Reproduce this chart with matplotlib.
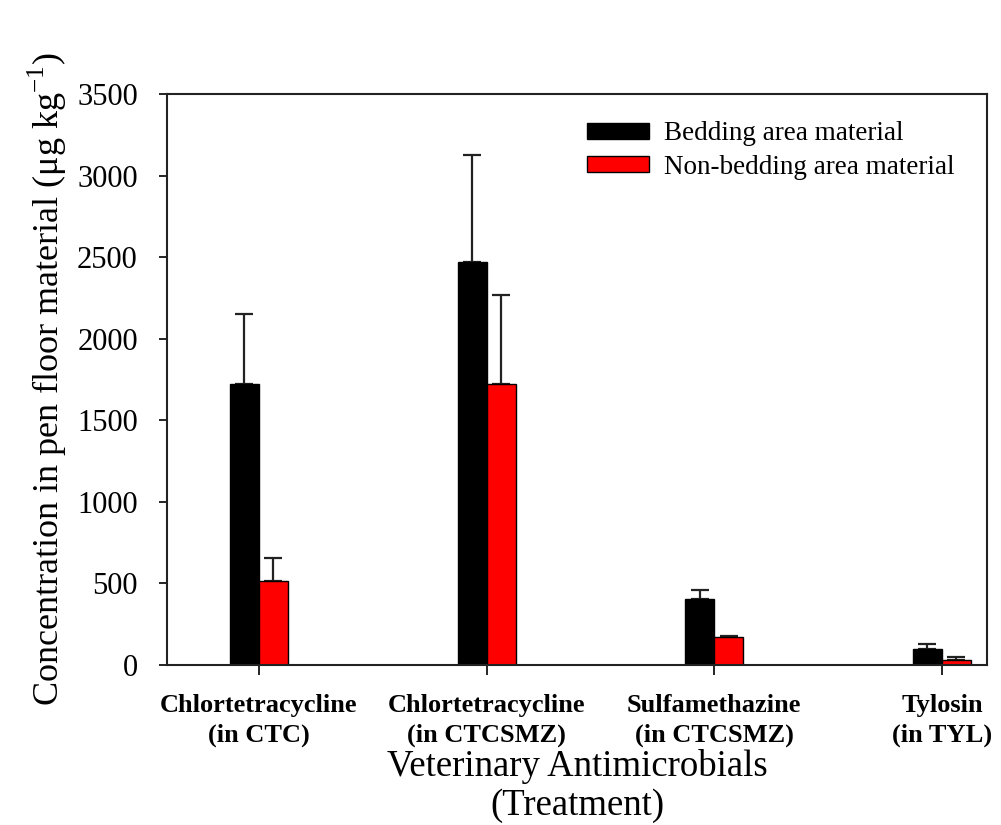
import numpy as np
import matplotlib
matplotlib.use('Agg')
import matplotlib.pyplot as plt

plt.rcParams['font.family'] = ['Liberation Serif', 'DejaVu Serif']
plt.rcParams['mathtext.fontset'] = 'custom'
plt.rcParams['mathtext.rm'] = 'Liberation Serif'

categories = ['Chlortetracycline\n(in CTC)', 'Chlortetracycline\n(in CTCSMZ)',
              'Sulfamethazine\n(in CTCSMZ)', 'Tylosin\n(in TYL)']
bedding = [1720, 2470, 405, 98]
bedding_err = [430, 655, 55, 31]
nonbedding = [515, 1720, 172, 30]
nonbedding_err = [142, 548, 7, 19]

x = np.arange(len(categories))
w = 0.127

fig = plt.figure(figsize=(10.01, 8.25), dpi=100)
ax = fig.add_axes([0.1668, 0.194, 0.8192, 0.692])

ax.bar(x - w/2, bedding, w, color='black', edgecolor='black', lw=1,
       label='Bedding area material', zorder=2)
ax.bar(x + w/2, nonbedding, w, color='red', edgecolor='black', lw=1,
       label='Non-bedding area material', zorder=2)
ax.errorbar(x - w/2, bedding, yerr=[np.zeros(4), bedding_err], fmt='none',
            ecolor='#222222', elinewidth=1.6, capsize=6.5, capthick=1.6, zorder=1)
ax.errorbar(x + w/2, nonbedding, yerr=[np.zeros(4), nonbedding_err], fmt='none',
            ecolor='#222222', elinewidth=1.6, capsize=6.5, capthick=1.6, zorder=1)

ax.set_xlim(-0.404, 3.198)
ax.set_ylim(0, 3500)
ax.set_yticks(np.arange(0, 3501, 500))
ax.set_xticks(x)
ax.set_xticklabels(categories, fontweight='bold', fontsize=19, linespacing=1.35)
ax.tick_params(axis='y', labelsize=22, direction='out', length=6, width=1.2, pad=15)
ax.tick_params(axis='x', direction='out', length=7, width=1.2, pad=14)
for s in ax.spines.values():
    s.set_linewidth(1.5)
    s.set_color('#222222')

ax.set_ylabel('Concentration in pen floor material (μg kg$^{-1}$)', fontsize=26, labelpad=6)
ax.set_xlabel('Veterinary Antimicrobials\n(Treatment)', fontsize=26.5, linespacing=1.15)
ax.xaxis.set_label_coords(0.5, -0.148)

ax.legend(loc='upper left', bbox_to_anchor=(0.512, 0.952), frameon=False, fontsize=19.5,
          handlelength=2.3, handleheight=0.55, handletextpad=0.55, labelspacing=0.3,
          borderpad=0, borderaxespad=0)

plt.savefig('out.png', dpi=100)
